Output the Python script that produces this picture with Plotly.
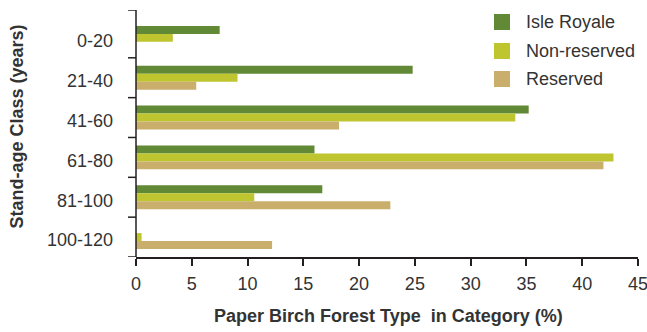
import plotly.graph_objects as go

categories = ["0-20", "21-40", "41-60", "61-80", "81-100", "100-120"]
isle_royale = [7.5, 24.8, 35.2, 16.0, 16.7, 0]
non_reserved = [3.3, 9.1, 34.0, 42.8, 10.6, 0.5]
reserved = [0, 5.4, 18.2, 41.9, 22.8, 12.2]
series_names = ["Isle Royale", "Non-reserved", "Reserved"]
colors = ["#628935", "#BEC52F", "#C9AF6B"]
x_ticks = [0, 5, 10, 15, 20, 25, 30, 35, 40, 45]

FONT = "Liberation Sans, Arial, Helvetica, sans-serif"
AX = "#231f20"
TXT = "#333333"

fig = go.Figure()
for name, vals, col in zip(series_names, [isle_royale, non_reserved, reserved], colors):
    fig.add_trace(go.Bar(y=categories, x=vals, name=name, orientation="h",
                         marker=dict(color=col, line=dict(width=0)), showlegend=False))

n = len(categories)
top = -0.7
bottom = n - 0.5

shapes = []
# y-axis boundary ticks
for b in [top] + [i + 0.5 for i in range(n)]:
    shapes.append(dict(type="line", xref="paper", yref="y", x0=-8 / 502, x1=0, y0=b, y1=b,
                       line=dict(color=AX, width=1.5)))
# y axis line
shapes.append(dict(type="line", xref="paper", yref="y", x0=0, x1=0, y0=top, y1=bottom,
                   line=dict(color=AX, width=1.5)))

annotations = []
# manual legend
row_px = [22, 51, 79]
for name, col, py in zip(series_names, colors, row_px):
    y0 = (257 - (py + 8)) / 247
    y1 = (257 - (py - 8)) / 247
    shapes.append(dict(type="rect", xref="paper", yref="paper",
                       x0=(494 - 136) / 502, x1=(510 - 136) / 502, y0=y0, y1=y1,
                       fillcolor=col, line=dict(width=0)))
    annotations.append(dict(xref="paper", yref="paper", x=(524 - 136) / 502, y=(257 - py) / 247,
                            text=name, showarrow=False, xanchor="left", yanchor="middle",
                            font=dict(family=FONT, size=18, color=TXT)))

# axis titles
annotations.append(dict(xref="paper", yref="paper", x=(16.5 - 136) / 502, y=(257 - 127) / 247,
                        text="<b>Stand-age Class (years)</b>", textangle=-90, showarrow=False,
                        xanchor="center", yanchor="middle",
                        font=dict(family=FONT, size=18, color=TXT)))
annotations.append(dict(xref="paper", yref="paper", x=(388 - 136) / 502, y=(257 - 316) / 247,
                        text="<b>Paper Birch Forest Type  in Category (%)</b>", showarrow=False,
                        xanchor="center", yanchor="middle",
                        font=dict(family=FONT, size=18, color=TXT)))

fig.update_layout(
    width=647, height=332,
    margin=dict(l=136, r=9, t=10, b=75),
    paper_bgcolor="white", plot_bgcolor="white",
    barmode="group", bargap=0.4, bargroupgap=0,
    font=dict(family=FONT, size=18, color=TXT),
    shapes=shapes, annotations=annotations,
    xaxis=dict(range=[0, 45], tickvals=x_ticks, showgrid=False, zeroline=False,
               automargin=False, ticklabeloverflow="allow", ticklabelstandoff=3,
               showline=True, linecolor=AX, linewidth=1.5,
               ticks="outside", ticklen=7, tickwidth=1.5, tickcolor=AX,
               tickfont=dict(family=FONT, size=18, color=TXT)),
    yaxis=dict(type="category", range=[bottom, top], showgrid=False, zeroline=False,
               automargin=False,
               showline=False, ticks="", ticklabelstandoff=22, ticklabelshift=-3,
               tickfont=dict(family=FONT, size=18, color=TXT)),
)

fig.write_html("out.html", config={"displayModeBar": False},
               post_script="document.body.style.margin='0';document.body.style.overflow='hidden';")
